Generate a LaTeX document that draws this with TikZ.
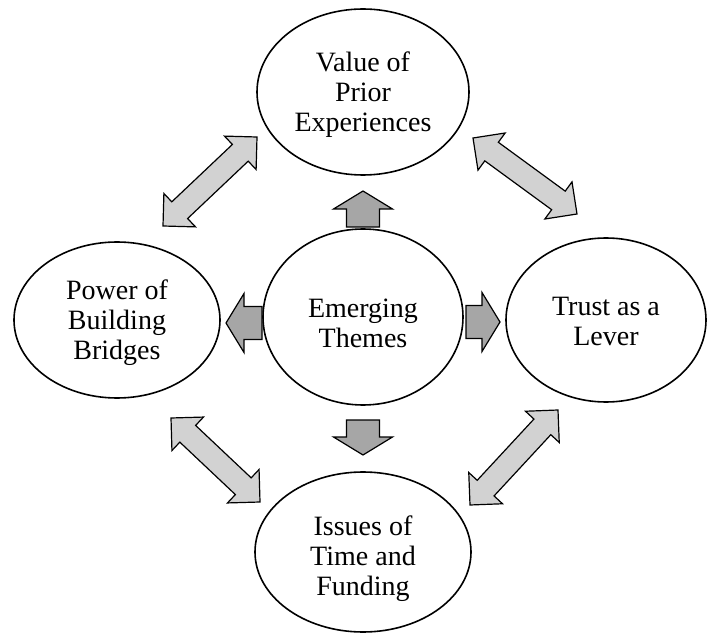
\documentclass[tikz,border=0pt]{standalone}
\usepackage{fontspec}
\setmainfont{Liberation Serif}
\usetikzlibrary{shapes.geometric,calc}
\tikzset{
  theme/.style={ellipse, draw, fill=white, line width=1.6pt,
    font=\fontsize{28}{30}\selectfont, inner sep=0pt},
  darkarrow/.style={draw, line width=1.2pt, fill=gray!70, line join=miter},
  lightarrow/.style={draw, line width=1.2pt, fill=gray!35, line join=miter},
}
\newcommand{\themetext}[2]{\raisebox{-#1}[\height][\depth]{\begin{tabular}{@{}c@{}}#2\end{tabular}}}
\newcommand{\dblarrow}[2]{%
  \draw[lightarrow] (#1) -- ($(#1)!32.53pt!45:(#2)$) -- ($(#1)!25.71pt!26.565:(#2)$)
    -- ($(#2)!25.71pt!-26.565:(#1)$) -- ($(#2)!32.53pt!-45:(#1)$) -- (#2)
    -- ($(#2)!32.53pt!45:(#1)$) -- ($(#2)!25.71pt!26.565:(#1)$)
    -- ($(#1)!25.71pt!-26.565:(#2)$) -- ($(#1)!32.53pt!-45:(#2)$) -- cycle;}
\newcommand{\sglarrow}[2]{%
  \draw[darkarrow] ($(#1)!16.5pt!90:(#2)$) -- ($(#2)!24.42pt!-42.51:(#1)$)
    -- ($(#2)!34.56pt!-58.61:(#1)$) -- (#2) -- ($(#2)!34.56pt!58.61:(#1)$)
    -- ($(#2)!24.42pt!42.51:(#1)$) -- ($(#1)!16.5pt!-90:(#2)$) -- cycle;}
\begin{document}
\begin{tikzpicture}[x=1pt,y=-1pt]
\useasboundingbox (0,0) rectangle (707,636);
% themes
\node[theme, minimum width=212pt, minimum height=166pt] (value) at (363,92) {\themetext{4pt}{Value of\\Prior\\Experiences}};
\node[theme, minimum width=200pt, minimum height=176pt] (emerging) at (363,317) {\themetext{10pt}{Emerging\\Themes}};
\node[theme, minimum width=206pt, minimum height=156pt] (power) at (117,320) {\themetext{4pt}{Power of\\Building\\Bridges}};
\node[theme, minimum width=200pt, minimum height=164pt] (trust) at (606,320) {\themetext{5pt}{Trust as a\\Lever}};
\node[theme, minimum width=216pt, minimum height=160pt] (issues) at (363,552) {\themetext{7pt}{Issues of\\Time and\\Funding}};
% single arrow ends
\coordinate (upT) at (363,227);   \coordinate (upP) at (363,191);
\coordinate (leftT) at (262,323); \coordinate (leftP) at (226,323);
\coordinate (rightT) at (466,322);\coordinate (rightP) at (500,322);
\coordinate (downT) at (363,420); \coordinate (downP) at (363,455);
\sglarrow{upT}{upP}
\sglarrow{leftT}{leftP}
\sglarrow{rightT}{rightP}
\sglarrow{downT}{downP}
% double arrow ends
\coordinate (tlA) at (257,137); \coordinate (tlB) at (163,226);
\coordinate (trA) at (473,138); \coordinate (trB) at (577,214);
\coordinate (blA) at (171,418); \coordinate (blB) at (260,502);
\coordinate (brA) at (558,410); \coordinate (brB) at (470,505);
\dblarrow{tlA}{tlB}
\dblarrow{trA}{trB}
\dblarrow{blA}{blB}
\dblarrow{brA}{brB}
\end{tikzpicture}
\end{document}
